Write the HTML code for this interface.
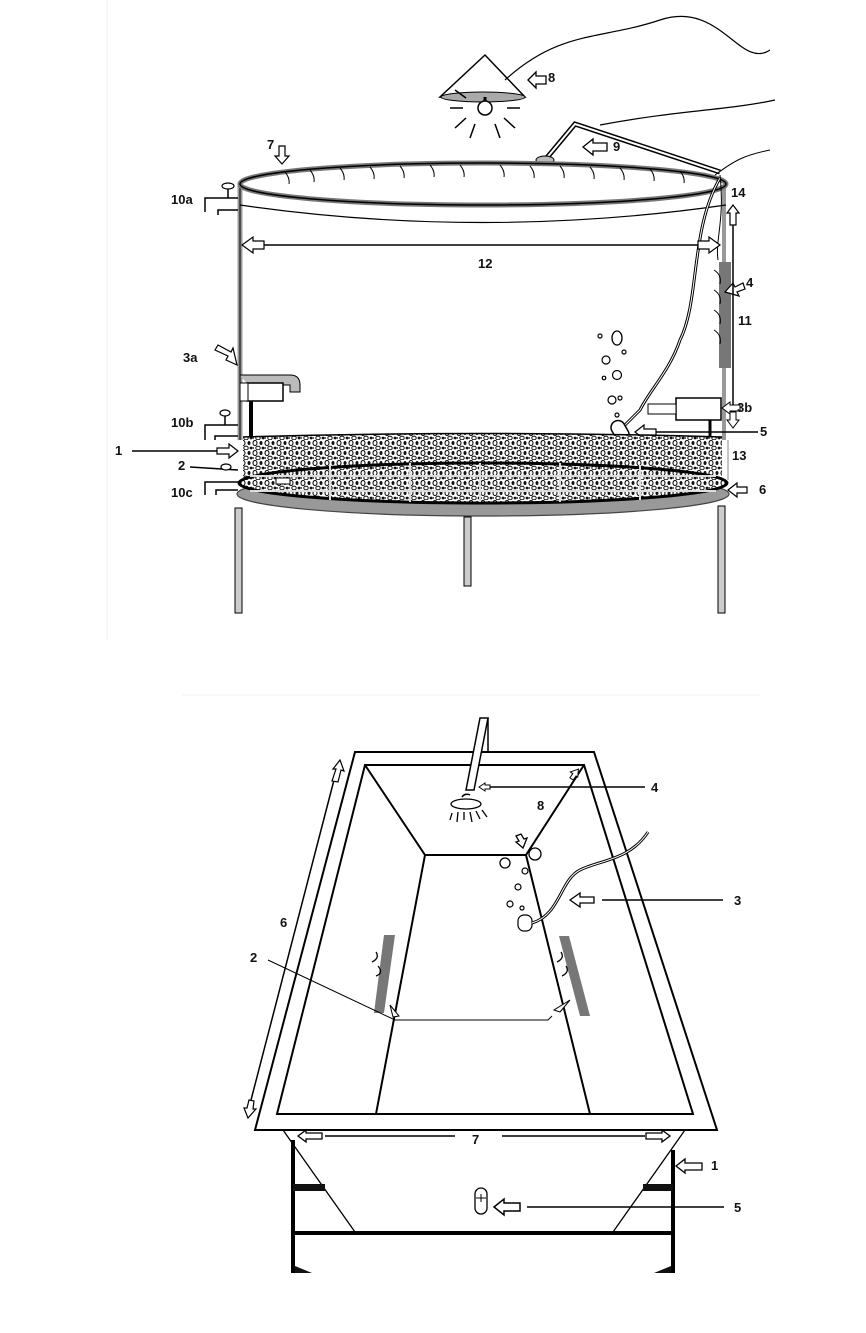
<!DOCTYPE html>
<html><head><meta charset="utf-8"><style>
html,body{margin:0;padding:0;background:#fff}
svg{display:block}
text{font-family:"Liberation Sans",sans-serif;font-weight:bold;font-size:13px;fill:#111}
</style></head><body>
<svg width="866" height="1333" viewBox="0 0 866 1333" xmlns="http://www.w3.org/2000/svg">
<defs>
<pattern id="grav" width="12" height="10" patternUnits="userSpaceOnUse">
<rect width="12" height="10" fill="#fff"/>
<ellipse cx="3" cy="3" rx="2" ry="2.5" fill="none" stroke="#111" stroke-width="1.1"/>
<ellipse cx="9" cy="3" rx="1.5" ry="2" fill="#111"/>
<ellipse cx="6" cy="8" rx="2.2" ry="1.8" fill="none" stroke="#222" stroke-width="1.1"/>
<circle cx="11" cy="8" r="1.4" fill="#111"/>
<circle cx="1" cy="8" r="1" fill="#333"/>
</pattern>
</defs>
<g fill="none" stroke="#000">
<line x1="107" y1="0" x2="107" y2="640" stroke="#eee"/>
<path d="M485,55 L440,97 L525,97 Z" fill="#fff" stroke-width="1.5"/>
<ellipse cx="483" cy="97" rx="42" ry="5" fill="#aaa"/>
<line x1="485" y1="97" x2="485" y2="104" stroke-width="3"/>
<circle cx="485" cy="108" r="7" fill="#fff" stroke-width="1.5"/>
<path d="M463,108 L450,108 M466,118 L455,128 M475,124 L470,138 M495,124 L500,138 M504,118 L515,128 M507,108 L520,108 M466,98 L455,90" stroke-width="1.5"/>
<path d="M505,80 C560,30 600,40 660,20 C720,0 740,70 770,50" stroke-width="1.2"/>
<path d="M600,125 C680,110 730,110 775,100" stroke-width="1.2"/>
<path d="M528,80 L536,72 L536,76 L546,76 L546,84 L536,84 L536,88 Z" fill="#fff" stroke-width="1.3"/>
<path d="M545,160 L575,124 L720,172" stroke-width="5"/>
<path d="M545,160 L575,124 L720,172" stroke="#fff" stroke-width="2"/>
<ellipse cx="545" cy="160" rx="9" ry="4" fill="#bbb"/>
<path d="M583,147 L593,139 L593,143 L607,143 L607,151 L593,151 L593,155 Z" fill="#fff" stroke-width="1.3"/>
<line x1="240" y1="185" x2="240" y2="440" stroke="#999" stroke-width="5"/>
<line x1="240" y1="185" x2="240" y2="440" stroke-width="1"/>
<line x1="724" y1="185" x2="724" y2="440" stroke="#999" stroke-width="4"/>
<ellipse cx="483" cy="184" rx="243" ry="21" stroke="#777" stroke-width="5"/>
<ellipse cx="483" cy="184" rx="243" ry="21" stroke-width="1.5"/>
<path d="M240,205 Q483,240 726,205" stroke-width="1.2"/>
<path d="M285,172 q5,6 4,12 M310,170 q5,6 4,12 M340,168 q5,6 4,12 M370,167 q5,6 4,12 M400,166 q5,6 4,12 M430,165 q5,6 4,12 M460,165 q5,6 4,12 M500,165 q5,6 4,12 M530,166 q5,6 4,12 M560,166 q5,6 4,12 M590,167 q5,6 4,12 M620,168 q5,6 4,12 M650,169 q5,6 4,12 M680,171 q5,6 4,12" stroke-width="1"/>
<path d="M720,178 C690,230 700,300 680,340 C670,370 650,390 640,410 L625,425" stroke-width="3"/>
<path d="M720,178 C690,230 700,300 680,340 C670,370 650,390 640,410 L625,425" stroke="#fff" stroke-width="1"/>
<path d="M715,175 C735,160 745,155 770,150 M720,175 C725,220 715,240 718,260" stroke-width="1"/>
<path d="M279,156 L279,146 L285,146 L285,156 L289,156 L282,164 L275,156 Z" fill="#fff" stroke-width="1.2"/>
<ellipse cx="228" cy="186" rx="6" ry="3" fill="#fff" stroke-width="1.2"/>
<path d="M228,189 L228,198 M205,212 L205,198 L238,198 M218,215 L218,210 L238,210" stroke-width="1.5"/>
<line x1="250" y1="245" x2="712" y2="245" stroke-width="1.5"/>
<path d="M242,245 L253,237 L253,241 L264,241 L264,249 L253,249 L253,253 Z" fill="#fff" stroke-width="1.2"/>
<path d="M720,245 L709,237 L709,241 L698,241 L698,249 L709,249 L709,253 Z" fill="#fff" stroke-width="1.2"/>
<rect x="719" y="262" width="12" height="106" fill="#777" stroke="none"/>
<path d="M714,270 q8,5 6,14 M714,290 q8,5 6,14 M714,310 q8,5 6,14 M714,330 q8,5 6,14" stroke-width="1"/>
<path d="M725,292 L733,283 L735,287 L743,283 L745,289 L737,292 L739,296 Z" fill="#fff" stroke-width="1.2"/>
<line x1="733" y1="218" x2="733" y2="415" stroke-width="1.5"/>
<path d="M733,205 L727,213 L730,213 L730,225 L736,225 L736,213 L739,213 Z" fill="#fff" stroke-width="1.2"/>
<path d="M733,428 L727,420 L730,420 L730,412 L736,412 L736,420 L739,420 Z" fill="#fff" stroke-width="1"/>
<path d="M240,375 L290,375 Q300,375 300,385 L300,392 L290,392 L290,385 L248,385" fill="#bbb" stroke-width="1"/>
<rect x="247" y="383" width="36" height="18" fill="#fff" stroke-width="1.5"/>
<rect x="240" y="383" width="8" height="18" fill="#fff" stroke-width="1"/>
<line x1="251" y1="401" x2="251" y2="440" stroke-width="4"/>
<path d="M237,365 L226,360 L228,356 L215,350 L218,345 L231,352 L233,348 Z" fill="#fff" stroke-width="1.2"/>
<rect x="676" y="398" width="45" height="22" fill="#fff" stroke-width="1.5"/>
<rect x="648" y="404" width="28" height="10" fill="#fff" stroke-width="1"/>
<line x1="710" y1="420" x2="710" y2="440" stroke-width="3"/>
<path d="M722,408 L730,402 L730,405 L740,405 L740,411 L730,411 L730,414 Z" fill="#fff" stroke-width="1"/>
<rect x="613" y="420" width="14" height="22" rx="7" transform="rotate(-30 620 431)" fill="#fff" stroke-width="1.5"/>
<path d="M635,432 L644,425 L644,429 L656,429 L656,435 L644,435 L644,439 Z" fill="#fff" stroke-width="1.2"/>
<line x1="656" y1="432" x2="758" y2="432" stroke-width="1.5"/>
<ellipse cx="617" cy="338" rx="5" ry="7" stroke-width="1.3"/>
<circle cx="600" cy="336" r="2" stroke-width="1.2"/>
<circle cx="606" cy="360" r="4" stroke-width="1.2"/>
<circle cx="624" cy="352" r="2" stroke-width="1.2"/>
<circle cx="617" cy="375" r="4.5" stroke-width="1.2"/>
<circle cx="604" cy="378" r="1.8" stroke-width="1.2"/>
<circle cx="612" cy="400" r="4" stroke-width="1.2"/>
<circle cx="620" cy="398" r="2" stroke-width="1.2"/>
<circle cx="617" cy="415" r="2" stroke-width="1.2"/>
<path d="M243,437 Q483,430 722,437 L722,482 Q483,462 243,482 Z" fill="url(#grav)" stroke="none"/>
<path d="M243,437 Q483,430 722,437" stroke-width="1.5"/>
<!-- gray rim -->
<ellipse cx="483" cy="494" rx="246" ry="22" fill="#999" stroke="#444" stroke-width="1.2"/>
<ellipse cx="483" cy="483" rx="244" ry="20" fill="url(#grav)" stroke-width="3"/>
<path d="M250,476 L716,476 M250,491 L716,491 M330,465 L330,500 M410,463 L410,502 M480,463 L480,502 M560,463 L560,502 M640,465 L640,500" stroke="#ddd" stroke-width="2"/>
<rect x="276" y="478" width="14" height="6" fill="#fff" stroke-width="1"/>
<rect x="235" y="508" width="7" height="105" fill="#ccc" stroke-width="1"/>
<rect x="464" y="517" width="7" height="69" fill="#ccc" stroke-width="1"/>
<rect x="718" y="506" width="7" height="107" fill="#ccc" stroke-width="1"/>
<line x1="132" y1="451" x2="218" y2="451" stroke-width="1.5"/>
<path d="M238,451 L229,444 L229,448 L217,448 L217,454 L229,454 L229,458 Z" fill="#fff" stroke-width="1.2"/>
<line x1="190" y1="467" x2="238" y2="470" stroke-width="1.5"/>
<ellipse cx="225" cy="413" rx="5" ry="3" fill="#fff" stroke-width="1.2"/>
<path d="M225,416 L225,425 M205,440 L205,425 L238,425 M215,440 L215,436 L238,436" stroke-width="1.5"/>
<ellipse cx="226" cy="467" rx="5" ry="3" fill="#fff" stroke-width="1.2"/>
<path d="M205,495 L205,482 L238,482 M216,495 L216,490 L238,490" stroke-width="1.5"/>
<line x1="728" y1="440" x2="728" y2="480" stroke="#888" stroke-width="1"/>
<path d="M728,490 L737,483 L737,487 L747,487 L747,493 L737,493 L737,497 Z" fill="#fff" stroke-width="1.2"/>

<line x1="182" y1="695" x2="760" y2="695" stroke="#f2f2f2"/>
<path d="M365,765 L584,765 L693,1114 L277,1114 Z" stroke-width="2"/>
<path d="M355,752 L594,752 L717,1130 L255,1130 Z" stroke-width="2"/>
<path d="M425,855 L526,855 L590,1114 L376,1114 Z" stroke-width="2"/>
<path d="M365,765 L425,855 M584,765 L526,855" stroke-width="2"/>
<path d="M480,718 L488,718 L474,790 L466,790 Z" fill="#fff" stroke-width="1.5"/>
<line x1="488" y1="718" x2="488" y2="752" stroke-width="1.5"/>
<ellipse cx="466" cy="804" rx="15" ry="5" fill="#fff" stroke-width="1.3"/>
<path d="M470,795 A6,6 0 0 0 462,797" stroke-width="1.5"/>
<path d="M452,813 L450,820 M458,812 L457,822 M464,812 L464,820 M470,812 L472,822 M476,811 L480,819 M482,810 L487,817" stroke-width="1.3"/>
<path d="M479,787 L485,783 L485,785 L490,785 L490,789 L485,789 L485,791 Z" fill="#fff" stroke-width="1"/>
<line x1="490" y1="787" x2="645" y2="787" stroke-width="1.5"/>
<path d="M570,775 L575,768 L579,775 L577,775 L577,780 L573,780 L573,775 Z" transform="rotate(35 575 774)" fill="#fff" stroke-width="1"/>
<path d="M523,848 L516,842 L519,841 L516,836 L521,834 L524,839 L527,838 Z" fill="#fff" stroke-width="1.3"/>
<circle cx="535" cy="854" r="6" stroke-width="1.3"/>
<circle cx="505" cy="863" r="5" stroke-width="1.3"/>
<circle cx="525" cy="871" r="3" stroke-width="1.2"/>
<circle cx="518" cy="887" r="3" stroke-width="1.2"/>
<circle cx="510" cy="904" r="3" stroke-width="1.2"/>
<circle cx="522" cy="908" r="2" stroke-width="1.2"/>
<rect x="518" y="915" width="14" height="16" rx="6" fill="#fff" stroke-width="1.2"/>
<path d="M532,923 C560,915 560,880 580,870 C600,860 630,860 648,832" stroke-width="3"/>
<path d="M532,923 C560,915 560,880 580,870 C600,860 630,860 648,832" stroke="#fff" stroke-width="1"/>
<path d="M570,900 L580,893 L580,897 L594,897 L594,903 L580,903 L580,907 Z" fill="#fff" stroke-width="1.3"/>
<line x1="602" y1="900" x2="723" y2="900" stroke-width="1.5"/>
<path d="M384,935 L395,935 L384,1013 L374,1013 Z" fill="#777" stroke="none"/>
<path d="M559,936 L569,936 L590,1016 L580,1016 Z" fill="#777" stroke="none"/>
<path d="M376,952 q4,6 -4,10 M378,966 q6,7 -2,10 M561,952 q4,6 -4,10 M566,966 q4,6 -4,10" stroke-width="1.3"/>
<path d="M268,960 L395,1020 L548,1020 L552,1016" stroke-width="1"/>
<path d="M390,1005 L399,1016 L393,1017 Z" fill="#fff" stroke-width="1"/>
<path d="M570,1000 L560,1012 L554,1010 Z" fill="#fff" stroke-width="1"/>
<line x1="334" y1="780" x2="251" y2="1100" stroke-width="1.5"/>
<path d="M340,760 L333,769 L336,769 L332,781 L338,782 L341,770 L344,771 Z" fill="#fff" stroke-width="1.2"/>
<path d="M248,1118 L244,1108 L247,1108 L249,1100 L254,1101 L253,1109 L256,1109 Z" fill="#fff" stroke-width="1.2"/>
<path d="M283,1130 L355,1232 M685,1130 L613,1232" stroke-width="1.3"/>
<line x1="293" y1="1140" x2="293" y2="1273" stroke-width="4"/>
<line x1="673" y1="1150" x2="673" y2="1273" stroke-width="4"/>
<line x1="293" y1="1233" x2="673" y2="1233" stroke-width="4"/>
<rect x="293" y="1184" width="32" height="7" fill="#111" stroke="none"/>
<rect x="643" y="1184" width="30" height="7" fill="#111" stroke="none"/>
<path d="M295,1266 L312,1273 L295,1273 Z M671,1266 L654,1273 L671,1273 Z" fill="#111" stroke="none"/>
<line x1="325" y1="1136" x2="455" y2="1136" stroke-width="1.5"/>
<line x1="502" y1="1136" x2="645" y2="1136" stroke-width="1.5"/>
<path d="M298,1136 L306,1130 L306,1133 L322,1133 L322,1139 L306,1139 L306,1142 Z" fill="#fff" stroke-width="1.3"/>
<path d="M670,1136 L662,1130 L662,1133 L646,1133 L646,1139 L662,1139 L662,1142 Z" fill="#fff" stroke-width="1.3"/>
<path d="M676,1166 L685,1159 L685,1163 L702,1163 L702,1170 L685,1170 L685,1173 Z" fill="#fff" stroke-width="1.3"/>
<rect x="475" y="1188" width="12" height="26" rx="6" fill="#fff" stroke-width="1.3"/>
<path d="M476,1198 L486,1198 M481,1194 L481,1202" stroke-width="1"/>
<path d="M494,1207 L504,1199 L504,1203 L520,1203 L520,1211 L504,1211 L504,1215 Z" fill="#fff" stroke-width="1.5"/>
<line x1="527" y1="1207" x2="724" y2="1207" stroke-width="1.5"/>
</g>
<text x="267" y="149">7</text>
<text x="548" y="82">8</text>
<text x="613" y="151">9</text>
<text x="171" y="204">10a</text>
<text x="731" y="197">14</text>
<text x="478" y="268">12</text>
<text x="746" y="287">4</text>
<text x="738" y="325">11</text>
<text x="183" y="362">3a</text>
<text x="737" y="412">3b</text>
<text x="171" y="427">10b</text>
<text x="760" y="436">5</text>
<text x="115" y="455">1</text>
<text x="732" y="460">13</text>
<text x="178" y="470">2</text>
<text x="171" y="497">10c</text>
<text x="759" y="494">6</text>
<text x="651" y="792">4</text>
<text x="537" y="810">8</text>
<text x="734" y="905">3</text>
<text x="280" y="927">6</text>
<text x="250" y="962">2</text>
<text x="472" y="1144">7</text>
<text x="711" y="1170">1</text>
<text x="734" y="1212">5</text>
</svg>
</body></html>
